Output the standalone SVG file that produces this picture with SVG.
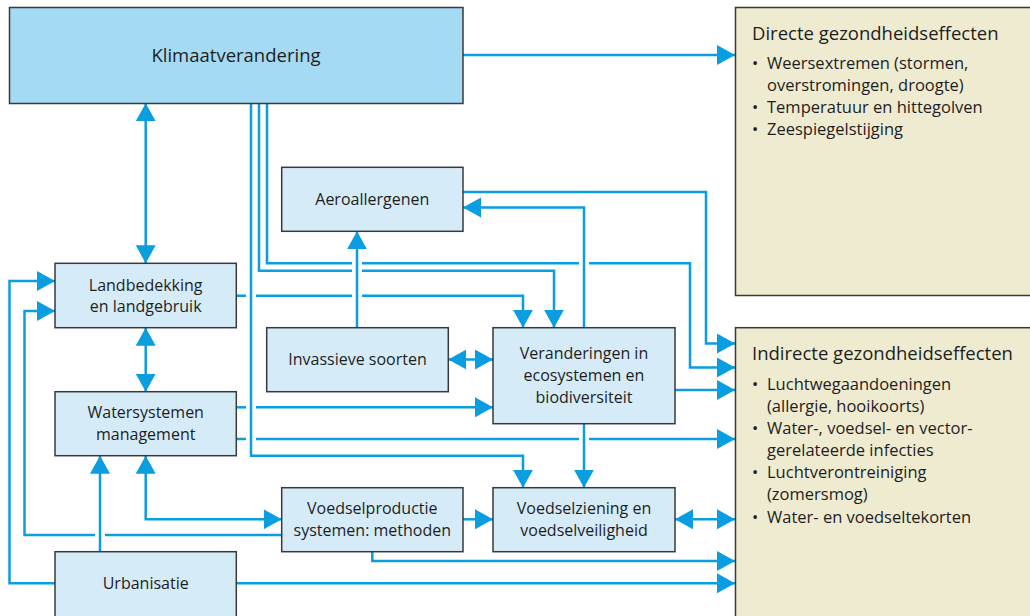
<svg xmlns="http://www.w3.org/2000/svg" width="1030" height="616" viewBox="0 0 1030 616">
<style>
.box{fill:#d5ebf8;stroke:#3a3a3a;stroke-width:1.5}
.main{fill:#a4daf3;stroke:#3a3a3a;stroke-width:1.5}
.eff{fill:#eeebd0;stroke:#3a3a3a;stroke-width:1.5}
text{font-family:"Open Sans","Noto Sans","DejaVu Sans",sans-serif;fill:#1e1e1e}
.lbl{font-size:16px;text-anchor:middle}
.ttl{font-size:18.5px}
.bul{font-size:16.5px}
.c{fill:none;stroke:#0a9de0;stroke-width:2.5;stroke-linejoin:miter}
.e{marker-end:url(#ah)}
.b{marker-start:url(#ah);marker-end:url(#ah)}
</style>
<defs>
<marker id="ah" markerUnits="userSpaceOnUse" markerWidth="18" markerHeight="20" refX="18" refY="10" orient="auto-start-reverse" viewBox="0 0 18 20">
<path d="M0,0 L18,10 L0,20 z" fill="#0a9de0"/>
</marker>
</defs>
<rect width="1030" height="616" fill="#ffffff"/>

<g id="connectors">
<path class="c e" d="M463,55 L735,55"/>
<path class="c b" d="M145.7,103.3 L145.7,263.3"/>
<path class="c b" d="M145.7,327.7 L145.7,391.7"/>
<path class="c e" d="M251,103.3 L251,455.7 L523,455.7 L523,487.7"/>
<path class="c" d="M259,103.3 L259,270.7 L352,270.7"/>
<path class="c e" d="M362,270.7 L554,270.7 L554,327.7"/>
<path class="c" d="M267,103.3 L267,263.3 L352,263.3 M362,263.3 L579,263.3"/>
<path class="c e" d="M589,263.3 L690,263.3 L690,367.5 L735,367.5"/>
<path class="c e" d="M463,192 L706,192 L706,343.5 L735,343.5"/>
<path class="c e" d="M584,327.7 L584,207.5 L463,207.5"/>
<path class="c e" d="M357,327.7 L357,231.3"/>
<path class="c" d="M236.3,295.7 L246,295.7 M256,295.7 L352,295.7"/>
<path class="c e" d="M362,295.7 L523,295.7 L523,327.7"/>
<path class="c b" d="M448.3,359.5 L493,359.5"/>
<path class="c" d="M236.3,407.3 L246,407.3"/>
<path class="c e" d="M256,407.3 L493,407.3"/>
<path class="c" d="M236.3,439 L246,439 M256,439 L579,439"/>
<path class="c e" d="M589,439 L735,439"/>
<path class="c e" d="M584,423.7 L584,487.7"/>
<path class="c e" d="M675,390 L735,390"/>
<path class="c e" d="M100,551.7 L100,455.7"/>
<path class="c e" d="M55,583.3 L9.5,583.3 L9.5,281 L55,281"/>
<path class="c" d="M281.7,535 L105,535"/>
<path class="c e" d="M95,535 L24.5,535 L24.5,311 L55,311"/>
<path class="c b" d="M145.7,455.7 L145.7,519.3 L281.7,519.3"/>
<path class="c e" d="M463,519.3 L493,519.3"/>
<path class="c b" d="M675,519.3 L735,519.3"/>
<path class="c e" d="M372.3,551.7 L372.3,561 L735,561"/>
<path class="c e" d="M236.3,583.3 L735,583.3"/>
</g>

<g id="klimaat">
<rect class="main" x="9.5" y="7.5" width="453.5" height="96"/>
<text class="lbl" x="236" y="61.5" style="font-size:18.5px">Klimaatverandering</text>
</g>

<g id="directe">
<rect class="eff" x="735.5" y="7.5" width="300" height="288"/>
<text class="ttl" x="752" y="40">Directe gezondheidseffecten</text>
<text class="bul" x="752" y="69">•</text><text class="bul" x="767" y="69">Weersextremen (stormen,</text>
<text class="bul" x="767" y="91">overstromingen, droogte)</text>
<text class="bul" x="752" y="113">•</text><text class="bul" x="767" y="113">Temperatuur en hittegolven</text>
<text class="bul" x="752" y="135">•</text><text class="bul" x="767" y="135">Zeespiegelstijging</text>
</g>

<g id="indirecte">
<rect class="eff" x="735.5" y="327.7" width="300" height="292"/>
<text class="ttl" x="752" y="360">Indirecte gezondheidseffecten</text>
<text class="bul" x="752" y="390">•</text><text class="bul" x="767" y="390">Luchtwegaandoeningen</text>
<text class="bul" x="767" y="412">(allergie, hooikoorts)</text>
<text class="bul" x="752" y="434">•</text><text class="bul" x="767" y="434">Water-, voedsel- en vector-</text>
<text class="bul" x="767" y="456">gerelateerde infecties</text>
<text class="bul" x="752" y="478">•</text><text class="bul" x="767" y="478">Luchtverontreiniging</text>
<text class="bul" x="767" y="500">(zomersmog)</text>
<text class="bul" x="752" y="523">•</text><text class="bul" x="767" y="523">Water- en voedseltekorten</text>
</g>

<g id="aeroallergenen">
<rect class="box" x="281.7" y="167.3" width="181.3" height="64"/>
<text class="lbl" x="372.3" y="205">Aeroallergenen</text>
</g>

<g id="landbedekking">
<rect class="box" x="55" y="263.3" width="181.3" height="64.4"/>
<text class="lbl" x="145.7" y="290.5">Landbedekking</text>
<text class="lbl" x="145.7" y="312">en landgebruik</text>
</g>

<g id="invasieve">
<rect class="box" x="266.7" y="327.7" width="181.6" height="64"/>
<text class="lbl" x="357.5" y="365">Invassieve soorten</text>
</g>

<g id="veranderingen">
<rect class="box" x="493" y="327.7" width="182" height="96"/>
<text class="lbl" x="584" y="359">Veranderingen in</text>
<text class="lbl" x="584" y="381">ecosystemen en</text>
<text class="lbl" x="584" y="403">biodiversiteit</text>
</g>

<g id="watersystemen">
<rect class="box" x="55" y="391.7" width="181.3" height="64"/>
<text class="lbl" x="145.7" y="418">Watersystemen</text>
<text class="lbl" x="145.7" y="440">management</text>
</g>

<g id="voedselproductie">
<rect class="box" x="281.7" y="487.7" width="181.3" height="64"/>
<text class="lbl" x="372.3" y="514">Voedselproductie</text>
<text class="lbl" x="372.3" y="536">systemen: methoden</text>
</g>

<g id="voedselziening">
<rect class="box" x="493" y="487.7" width="182" height="64"/>
<text class="lbl" x="584" y="514">Voedselziening en</text>
<text class="lbl" x="584" y="535.5">voedselveiligheid</text>
</g>

<g id="urbanisatie">
<rect class="box" x="55" y="551.7" width="181.3" height="70"/>
<text class="lbl" x="145.7" y="589">Urbanisatie</text>
</g>
</svg>
